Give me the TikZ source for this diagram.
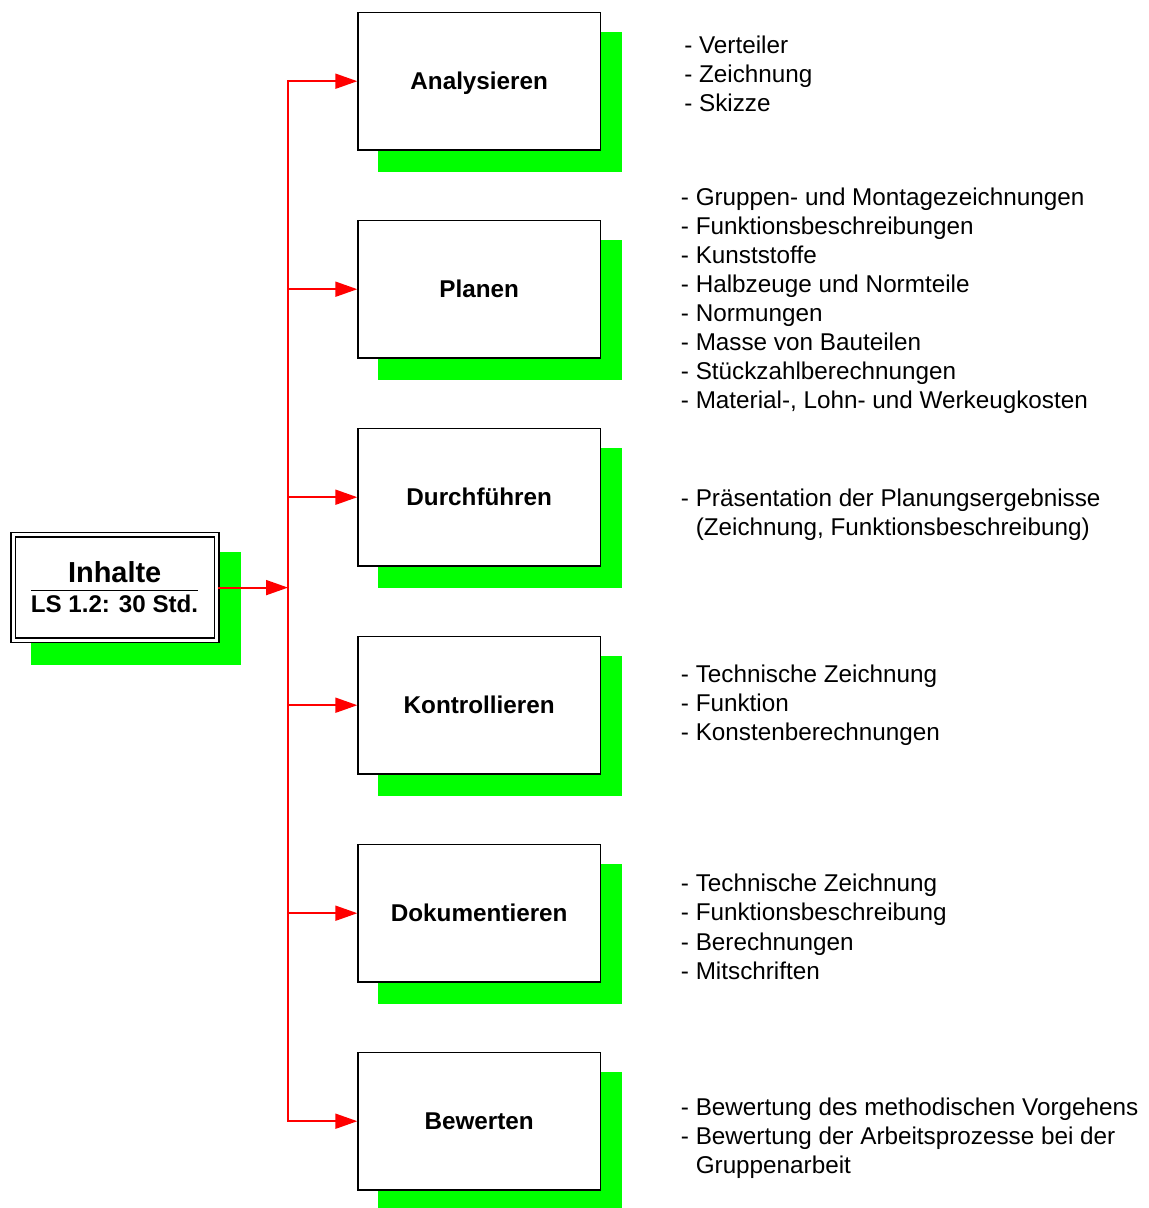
\documentclass[tikz,border=0pt]{standalone}
\usepackage{fontspec}
\setmainfont{Liberation Sans}
\usetikzlibrary{arrows.meta,calc}
\definecolor{shadowgreen}{RGB}{0,255,0}
\definecolor{linkred}{RGB}{255,0,0}
\newcommand\listsize{\fontsize{18.2pt}{22pt}\selectfont}
\begin{document}
\begin{tikzpicture}[x=0.75pt,y=-0.75pt,
  stepbox/.style={draw=black, line width=1.1pt, fill=white,
    minimum width=181.7pt, minimum height=103.2pt, inner sep=0pt,
    font=\listsize\bfseries, text height=13pt, text depth=0pt},
  shade/.style={fill=shadowgreen},
  link/.style={draw=linkred, line width=1.4pt},
  linkarrow/.style={link, -{Triangle[length=16.5pt,width=11.25pt]}},
  item/.style={anchor=base west, inner sep=0pt, font=\listsize}]
\useasboundingbox (0,0) rectangle (1149,1208);

% summary box on the left
\fill[shade] (31,552) rectangle (240.7,665);
\node[draw=black, line width=1.1pt, double=white, double distance=2.25pt,
  fill=white, minimum width=152.8pt, minimum height=79pt, inner sep=0pt]
  (inh) at (114.9,587.6) {};
\node[anchor=base, inner sep=0pt, font=\fontsize{21.7pt}{26pt}\selectfont\bfseries]
  (inhT) at (114.7,582) {Inhalte};
\node[anchor=base, inner sep=0pt, font=\fontsize{18.1pt}{22pt}\selectfont\bfseries]
  (inhS) at (114.5,612.7) {LS 1.2: 30 Std.};
\coordinate (ruleL) at (31,590.7);
\coordinate (ruleR) at (198,590.7);
\draw[line width=0.9pt] (ruleL) -- (ruleR);

% process steps with their shadows
\foreach \name [count=\k from 0] in {Analysieren,Planen,Durchführen,Kontrollieren,Dokumentieren,Bewerten} {
  \fill[shade] (378,{32.4+208*\k}) rectangle (622.3,{172+208*\k});
  \node[stepbox] (b\k) at (479.2,{81.2+208*\k}) {\name};
}

% red distribution bus
\coordinate (bus) at (288,587.6);
\draw[link, line cap=rect] (bus |- b0.west) -- (bus |- b5.west);
\draw[linkarrow] (inh.east) -- (bus |- inh.east);
\foreach \k in {0,...,5}
  \draw[linkarrow] (bus |- b\k.west) -- (b\k.west);

% topic lists
\foreach \t [count=\i from 0] in {- Verteiler, - Zeichnung, - Skizze}
  \node[item] (la\i) at (684,{53.3+29*\i}) {\t};
\foreach \t [count=\i from 0] in {- Gruppen- und Montagezeichnungen, - Funktionsbeschreibungen,
    - Kunststoffe, - Halbzeuge und Normteile, - Normungen, - Masse von Bauteilen,
    - Stückzahlberechnungen, {- Material-, Lohn- und Werkeugkosten}}
  \node[item] (lp\i) at (680.7,{205+29*\i}) {\t};
\foreach \t [count=\i from 0] in {- Präsentation der Planungsergebnisse,
    {\hphantom{- }(Zeichnung, Funktionsbeschreibung)}}
  \node[item] (ld\i) at (680.7,{506.5+29*\i}) {\t};
\foreach \t [count=\i from 0] in {- Technische Zeichnung, - Funktion, - Konstenberechnungen}
  \node[item] (lk\i) at (680.7,{682+29*\i}) {\t};
\foreach \t [count=\i from 0] in {- Technische Zeichnung, - Funktionsbeschreibung,
    - Berechnungen, - Mitschriften}
  \node[item] (lo\i) at (680.7,{891.5+29.3*\i}) {\t};
\foreach \t [count=\i from 0] in {- Bewertung des methodischen Vorgehens,
    - Bewertung der Arbeitsprozesse bei der, {\hphantom{- }Gruppenarbeit}}
  \node[item] (lb\i) at (680.7,{1115+29*\i}) {\t};
\end{tikzpicture}
\end{document}
